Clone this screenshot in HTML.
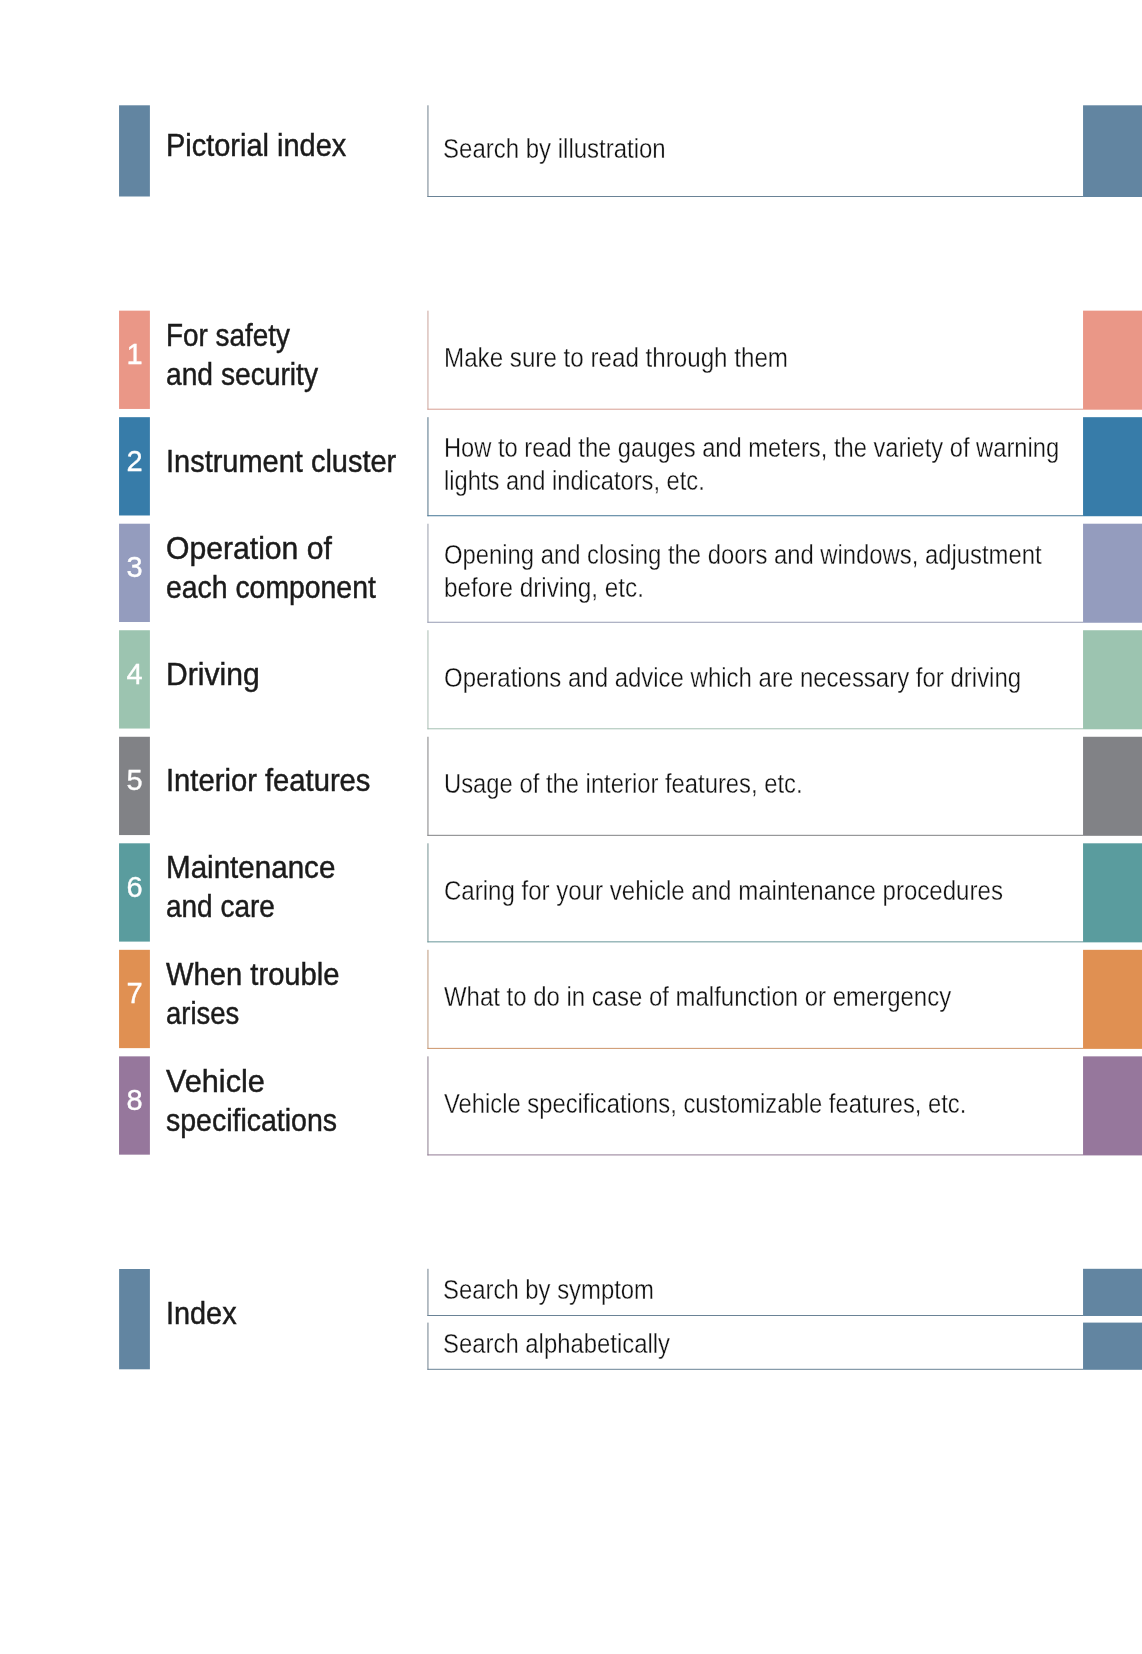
<!DOCTYPE html>
<html lang="en"><head><meta charset="utf-8"><title>Contents</title>
<style>
*{margin:0;padding:0;box-sizing:border-box}
html,body{width:1142px;height:1654px;background:#fff;overflow:hidden}
body{position:relative;font-family:"Liberation Sans",sans-serif;color:#1b1b1b}
svg.shapes{position:absolute;left:0;top:0;width:1142px;height:1654px}
.row{position:absolute;left:0;width:1142px}
.num{position:absolute;left:119px;width:31px;text-align:center;color:#fff;font-size:29.0px;line-height:30px;-webkit-text-stroke:0.35px #fff;will-change:transform}
.h{position:absolute;left:0;font-size:30.5px;line-height:38.6px;white-space:nowrap;-webkit-text-stroke:0.45px #1b1b1b;will-change:transform}
.d{position:absolute;left:0;font-size:27.0px;line-height:32.5px;white-space:nowrap;color:#111;-webkit-text-stroke:0.3px #fff;will-change:transform}
.h span,.d span{display:block;transform-origin:0 50%}
</style></head>
<body>
<svg class="shapes" viewBox="0 0 1142 1654" width="1142" height="1654">
<rect x="119.05" y="105.30" width="30.85" height="91.20" fill="#6285A1"/><rect x="1083.05" y="105.30" width="58.95" height="91.70" fill="#6285A1"/><rect x="427.45" y="105.30" width="1" height="91.70" fill="#71818E"/><rect x="427.45" y="196.00" width="655.6" height="1" fill="#6A8396"/><!-- -->
<rect x="119.05" y="310.65" width="30.85" height="98.30" fill="#EA9787"/><rect x="1083.05" y="310.65" width="58.95" height="99.05" fill="#EA9787"/><rect x="427.45" y="310.65" width="1" height="99.05" fill="#C9A49C"/><rect x="427.45" y="408.70" width="655.6" height="1" fill="#D89E93"/>
<rect x="119.05" y="417.18" width="30.85" height="98.30" fill="#377CA9"/><rect x="1083.05" y="417.18" width="58.95" height="99.05" fill="#377CA9"/><rect x="427.45" y="417.18" width="1" height="99.05" fill="#547388"/><rect x="427.45" y="515.23" width="655.6" height="1" fill="#477797"/>
<rect x="119.05" y="523.71" width="30.85" height="98.30" fill="#949CBE"/><rect x="1083.05" y="523.71" width="58.95" height="99.05" fill="#949CBE"/><rect x="427.45" y="523.71" width="1" height="99.05" fill="#999DAC"/><rect x="427.45" y="621.76" width="655.6" height="1" fill="#979CB4"/>
<rect x="119.05" y="630.24" width="30.85" height="98.30" fill="#9CC4B0"/><rect x="1083.05" y="630.24" width="58.95" height="99.05" fill="#9CC4B0"/><rect x="427.45" y="630.24" width="1" height="99.05" fill="#AABCB3"/><rect x="427.45" y="728.29" width="655.6" height="1" fill="#A4C0B2"/>
<rect x="119.05" y="736.77" width="30.85" height="98.30" fill="#818286"/><rect x="1083.05" y="736.77" width="58.95" height="99.05" fill="#818286"/><rect x="427.45" y="736.77" width="1" height="99.05" fill="#828284"/><rect x="427.45" y="834.82" width="655.6" height="1" fill="#818285"/>
<rect x="119.05" y="843.30" width="30.85" height="98.30" fill="#5A9C9E"/><rect x="1083.05" y="843.30" width="58.95" height="99.05" fill="#5A9C9E"/><rect x="427.45" y="843.30" width="1" height="99.05" fill="#749192"/><rect x="427.45" y="941.35" width="655.6" height="1" fill="#689698"/>
<rect x="119.05" y="949.83" width="30.85" height="98.30" fill="#E09052"/><rect x="1083.05" y="949.83" width="58.95" height="99.05" fill="#E09052"/><rect x="427.45" y="949.83" width="1" height="99.05" fill="#BD997D"/><rect x="427.45" y="1047.88" width="655.6" height="1" fill="#CD956A"/>
<rect x="119.05" y="1056.36" width="30.85" height="98.30" fill="#96779C"/><rect x="1083.05" y="1056.36" width="58.95" height="99.05" fill="#96779C"/><rect x="427.45" y="1056.36" width="1" height="99.05" fill="#8C7E8F"/><rect x="427.45" y="1154.41" width="655.6" height="1" fill="#917B95"/>
<rect x="119.1" y="1269.0" width="30.8" height="100.3" fill="#6285A1"/>
<rect x="1083.05" y="1268.80" width="58.95" height="47.20" fill="#6285A1"/><rect x="427.45" y="1268.80" width="1" height="47.20" fill="#71818E"/><rect x="427.45" y="1315.00" width="655.6" height="1" fill="#6A8396"/>
<rect x="1083.05" y="1322.60" width="58.95" height="47.20" fill="#6285A1"/><rect x="427.45" y="1322.60" width="1" height="47.20" fill="#71818E"/><rect x="427.45" y="1368.80" width="655.6" height="1" fill="#6A8396"/>
</svg>
<div class="row" style="top:105.30px;height:91.15px"><div class="h" style="left:165.87px;top:21.12px"><span style="transform:scaleX(0.9493)">Pictorial index</span></div><div class="d" style="left:444.16px;top:27.73px"><span style="transform:translateX(-0.9px) scaleX(0.8882)">Search by illustration</span></div></div>
<div class="row" style="top:310.50px;height:98.10px"><div class="num" style="top:28.72px">1</div><div class="h" style="left:165.87px;top:5.32px"><span style="transform:scaleX(0.9142)">For safety</span><span style="transform:scaleX(0.9245)">and security</span></div><div class="d" style="left:444.16px;top:31.63px"><span style="transform:scaleX(0.8953)">Make sure to read through them</span></div></div>
<div class="row" style="top:417.03px;height:98.10px"><div class="num" style="top:28.72px">2</div><div class="h" style="left:165.87px;top:24.82px"><span style="transform:scaleX(0.9500)">Instrument cluster</span></div><div class="d" style="left:444.16px;top:15.13px"><span style="transform:scaleX(0.8776)">How to read the gauges and meters, the variety of warning</span><span style="transform:scaleX(0.8776)">lights and indicators, etc.</span></div></div>
<div class="row" style="top:523.56px;height:98.10px"><div class="num" style="top:28.72px">3</div><div class="h" style="left:165.87px;top:5.32px"><span style="transform:scaleX(0.9882)">Operation of</span><span style="transform:scaleX(0.9304)">each component</span></div><div class="d" style="left:444.16px;top:15.13px"><span style="transform:scaleX(0.8827)">Opening and closing the doors and windows, adjustment</span><span style="transform:scaleX(0.9005)">before driving, etc.</span></div></div>
<div class="row" style="top:630.09px;height:98.10px"><div class="num" style="top:28.72px">4</div><div class="h" style="left:165.87px;top:24.82px"><span style="transform:scaleX(0.9868)">Driving</span></div><div class="d" style="left:444.16px;top:31.63px"><span style="transform:scaleX(0.8881)">Operations and advice which are necessary for driving</span></div></div>
<div class="row" style="top:736.62px;height:98.10px"><div class="num" style="top:28.72px">5</div><div class="h" style="left:165.87px;top:24.82px"><span style="transform:scaleX(0.9571)">Interior features</span></div><div class="d" style="left:444.16px;top:31.63px"><span style="transform:scaleX(0.8816)">Usage of the interior features, etc.</span></div></div>
<div class="row" style="top:843.15px;height:98.10px"><div class="num" style="top:28.72px">6</div><div class="h" style="left:165.87px;top:5.32px"><span style="transform:scaleX(0.9697)">Maintenance</span><span style="transform:scaleX(0.9169)">and care</span></div><div class="d" style="left:444.16px;top:31.63px"><span style="transform:scaleX(0.8909)">Caring for your vehicle and maintenance procedures</span></div></div>
<div class="row" style="top:949.68px;height:98.10px"><div class="num" style="top:28.72px">7</div><div class="h" style="left:165.87px;top:5.32px"><span style="transform:scaleX(0.9566)">When trouble</span><span style="transform:scaleX(0.9005)">arises</span></div><div class="d" style="left:444.16px;top:31.63px"><span style="transform:scaleX(0.8869)">What to do in case of malfunction or emergency</span></div></div>
<div class="row" style="top:1056.21px;height:98.10px"><div class="num" style="top:28.72px">8</div><div class="h" style="left:165.87px;top:5.32px"><span style="transform:scaleX(1.0049)">Vehicle</span><span style="transform:scaleX(0.9341)">specifications</span></div><div class="d" style="left:444.16px;top:31.63px"><span style="transform:scaleX(0.8812)">Vehicle specifications, customizable features, etc.</span></div></div>
<div class="row" style="top:1269.00px;height:100.30px"><div class="h" style="left:165.87px;top:25.42px"><span style="transform:scaleX(0.9459)">Index</span></div><div class="d" style="left:444.16px;top:5.23px"><span style="transform:translateX(-0.9px) scaleX(0.8839)">Search by symptom</span></div><div class="d" style="left:444.16px;top:58.63px"><span style="transform:translateX(-0.9px) scaleX(0.8839)">Search alphabetically</span></div></div>
</body></html>
